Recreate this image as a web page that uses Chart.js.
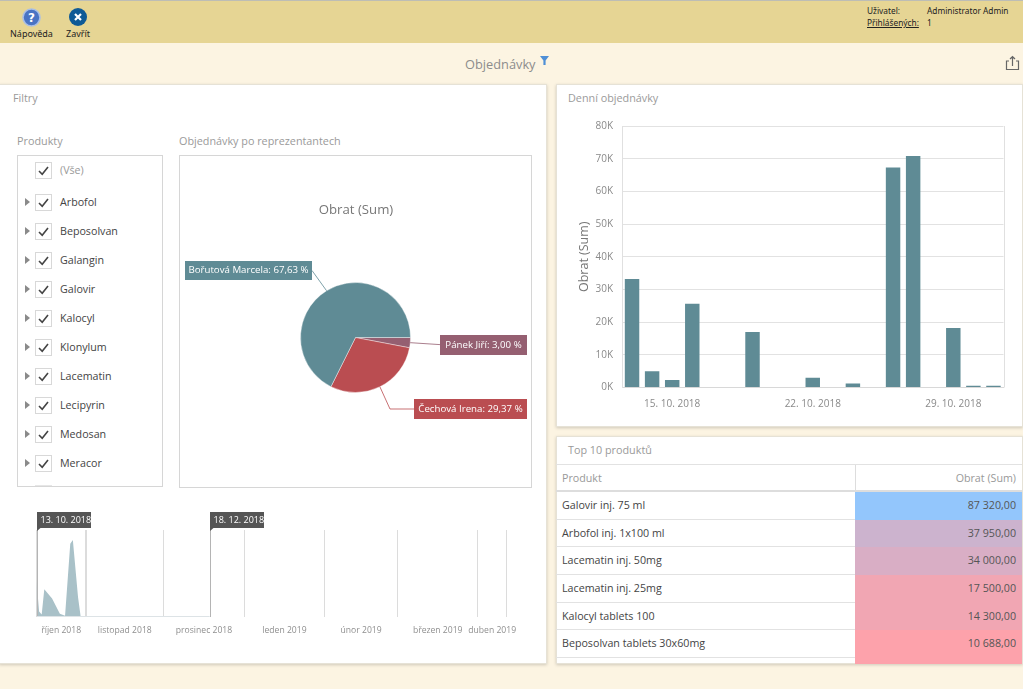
<!DOCTYPE html>
<html lang="cs"><head><meta charset="utf-8"><title>Objednávky</title>
<script src="https://cdn.jsdelivr.net/npm/chart.js@4"></script>
<style>
html,body{margin:0;padding:0;width:1023px;height:689px;overflow:hidden;background:#fcf4e2;font-family:"Open Sans",sans-serif;color:#333}
.a{position:absolute;white-space:nowrap}
#top{left:0;top:0;width:1023px;height:43px;background:#e6d594;border-top:1px solid #bdbdb5;box-sizing:border-box}
.small{font:9px "Noto Sans",sans-serif;color:#222}
.panel{background:#fff;border:1px solid #e6e2d6;box-sizing:border-box;box-shadow:0 1px 3px rgba(0,0,0,.18)}
.cap{font-size:10.8px;color:#9a9a9a}
.box{border:1px solid #d6d6d6;box-sizing:border-box;background:#fff}
.item{font-size:10.7px;color:#444;line-height:16px}
.chk{width:17px;height:17px;border:1px solid #d8d8d8;box-sizing:border-box;background:#fff}
.chk svg{display:block}
.arrow{width:0;height:0;border-left:5px solid #8a8a8a;border-top:4px solid transparent;border-bottom:4px solid transparent}
canvas{position:absolute}
.row{left:556px;width:466px;box-sizing:border-box;border-bottom:1px solid #e2e2e2}
.cellL{position:absolute;left:6px;top:0;font-size:10.7px;color:#444}
.cellR{position:absolute;left:299px;right:0;top:0;bottom:-1px;text-align:right;padding-right:6px;font-size:10.7px;color:#555}
</style></head><body>
<div class="a" id="top"></div>
<svg class="a" style="left:22px;top:8px" width="19" height="19" viewBox="0 0 19 19"><circle cx="9.5" cy="9.5" r="8.5" fill="#4a74c4" stroke="#a9bfe6" stroke-width="1.6"/><text x="9.5" y="14" text-anchor="middle" font-family="DejaVu Sans" font-weight="bold" font-size="12" fill="#fff">?</text></svg>
<svg class="a" style="left:69px;top:8px" width="18" height="18" viewBox="0 0 18 18"><circle cx="9" cy="9" r="9" fill="#0f5a96"/><path d="M6 6l6 6M12 6l-6 6" stroke="#fff" stroke-width="2.2"/></svg>
<div class="a small" style="left:10px;top:27px">Nápověda</div>
<div class="a small" style="left:66px;top:27px">Zavřít</div>
<div class="a small" style="left:867px;top:5px;font-size:8.3px">Uživatel:</div>
<div class="a small" style="left:927px;top:5px;font-size:8.3px">Administrator Admin</div>
<div class="a small" style="left:867px;top:17px;font-size:8.3px;text-decoration:underline">Přihlášených:</div>
<div class="a small" style="left:927px;top:17px;font-size:8.3px">1</div>
<div class="a" style="left:465px;top:55px;font-size:12.8px;color:#8c8c8c">Objednávky</div>
<svg class="a" style="left:539px;top:55px" width="11" height="11" viewBox="0 0 11 11"><path d="M1 1h9L6.6 5.5V10H4.4V5.5z" fill="#4f8fd6"/></svg>
<svg class="a" style="left:1005px;top:55px" width="15" height="16" viewBox="0 0 15 16" fill="none" stroke="#666" stroke-width="1.2"><path d="M4 6H1.5v8.5h12V6H11M7.5 11V1.5M5 4l2.5-2.5L10 4"/></svg>

<div class="a panel" style="left:-1px;top:84px;width:548px;height:580px"></div>
<div class="a cap" style="left:13px;top:90px">Filtry</div>
<div class="a cap" style="left:17px;top:133px">Produkty</div>
<div class="a cap" style="left:179px;top:133px">Objednávky po reprezentantech</div>
<div class="a box" id="list" style="left:17px;top:155px;width:146px;height:332px;overflow:hidden"></div>
<div class="a box" style="left:179px;top:155px;width:353px;height:333px"></div>
<canvas id="pie" style="left:180px;top:156px;width:351px;height:331px"></canvas>

<canvas id="range" style="left:20px;top:505px;width:510px;height:140px"></canvas>

<div class="a panel" style="left:556px;top:84px;width:467px;height:343px"></div>
<div class="a cap" style="left:568px;top:90px">Denní objednávky</div>
<canvas id="bars" style="left:556px;top:110px;width:466px;height:310px"></canvas>

<div class="a panel" style="left:556px;top:436px;width:467px;height:228px"></div>
<div class="a cap" style="left:568px;top:442px">Top 10 produktů</div>
<div id="table"></div>

<script>
// Daily orders (one value per day, 13. 10. – 31. 10. 2018; null = no orders)
const dayLabels = ['13. 10. 2018','14. 10. 2018','15. 10. 2018','16. 10. 2018','17. 10. 2018','18. 10. 2018','19. 10. 2018','20. 10. 2018','21. 10. 2018','22. 10. 2018','23. 10. 2018','24. 10. 2018','25. 10. 2018','26. 10. 2018','27. 10. 2018','28. 10. 2018','29. 10. 2018','30. 10. 2018','31. 10. 2018'];
const dayValues = [33200,5000,2300,25600,null,null,17000,null,null,3000,null,1200,null,67300,70800,null,18200,500,500];
const dayTickLabels = ['15. 10. 2018','22. 10. 2018','29. 10. 2018'];
const yTicks = [0,10000,20000,30000,40000,50000,60000,70000,80000];

// Pie
const repNames = ['Pánek Jiří','Čechová Irena','Bořutová Marcela'];
const repShares = [3.00,29.37,67.63];
const repColors = ['#955f71','#ba4d51','#5f8b95'];

// Range selector (x is days since 13. 10. 2018)
const monthStarts = [0,19,49,80,111,139,170,181];
const monthMiddles = [9.5,34,64.5,95.5,125,154.5,175.5];
const monthLabels = ['říjen 2018','listopad 2018','prosinec 2018','leden 2019','únor 2019','březen 2019','duben 2019'];
const rangeTags = ['13. 10. 2018','18. 12. 2018'];
const rangeDays = [0,66.7];
const rangeEndDay = 181;

// Filter list
const allLabel = '(Vše)';
const products = ['Arbofol','Beposolvan','Galangin','Galovir','Kalocyl','Klonylum','Lacematin','Lecipyrin','Medosan','Meracor'];

// Top 10 table
const tableHead = ['Produkt','Obrat (Sum)'];
const topNames = ['Galovir inj. 75 ml','Arbofol inj. 1x100 ml','Lacematin inj. 50mg','Lacematin inj. 25mg','Kalocyl tablets 100','Beposolvan tablets 30x60mg'];
const topValues = ['87 320,00','37 950,00','34 000,00','17 500,00','14 300,00','10 688,00'];
const topColors = ['#93c6fc','#ccb3ce','#d9aec5','#f1a6b3','#f1a6b3','#fda2ab','#fda2ab'];

const FONT = '"Open Sans", sans-serif';
Chart.defaults.animation = false;
Chart.defaults.responsive = false;
Chart.defaults.font.family = FONT;
Chart.defaults.plugins.legend.display = false;
Chart.defaults.plugins.tooltip.enabled = false;

function fit(id){const c=document.getElementById(id);c.width=parseFloat(c.style.width);c.height=parseFloat(c.style.height);return c;}

// ---- filter list
const CHECK='<svg width="15" height="15" viewBox="0 0 15 15"><path d="M3 8l3.2 3.2L12 4" fill="none" stroke="#444" stroke-width="1.6"/></svg>';
(function(){
  const L=document.getElementById('list');let h='';
  h+=`<div class="a chk" style="left:17px;top:6px">${CHECK}</div><div class="a item" style="left:42px;top:6px;color:#999">${allLabel}</div>`;
  products.forEach((p,i)=>{const y=38+i*29;
    h+=`<div class="a arrow" style="left:7px;top:${y+4}px"></div><div class="a chk" style="left:17px;top:${y}px">${CHECK}</div><div class="a item" style="left:42px;top:${y}px">${p}</div>`;});
  h+=`<div class="a" style="left:17px;top:329px;width:17px;height:3px;background:#e6e6e6"></div>`;
  L.innerHTML=h;
})();

// ---- table
(function(){
  const T=document.getElementById('table');let h='';
  h+=`<div class="a row" style="top:464px;height:28px;border-top:1px solid #e2e2e2;border-bottom:2px solid #ddd"><div class="cellL" style="top:6px;color:#999">${tableHead[0]}</div><div class="cellR" style="top:0;padding-top:6px;color:#999;border-left:1px solid #ddd">${tableHead[1]}</div></div>`;
  const tops=[492,520,547,575,603,630];
  topNames.forEach((n,i)=>{h+=`<div class="a row" style="top:${tops[i]}px;height:${(tops[i+1]||658)-tops[i]}px"><div class="cellL" style="top:6px">${n}</div><div class="cellR" style="background:${topColors[i]};padding-top:6px">${topValues[i]}</div></div>`;});
  h+=`<div class="a" style="left:855px;top:658px;width:167px;height:6px;background:${topColors[6]}"></div>`;
  T.innerHTML=h;
})();

// ---- pie
const pieLabels={id:'pieLabels',afterDatasetsDraw(chart){
  const {ctx}=chart, meta=chart.getDatasetMeta(0);
  const boxes=[{x:440,y:334,w:87,h:20},{x:414,y:398,w:113,h:20},{x:185,y:260,w:127,h:19}];
  ctx.save();
  ctx.font='9.7px '+FONT;ctx.textBaseline='middle';ctx.textAlign='center';
  meta.data.forEach((arc,i)=>{
    const p=arc.getProps(['x','y','startAngle','endAngle','outerRadius'],true);
    const mid=(p.startAngle+p.endAngle)/2;
    const ex=p.x+p.outerRadius*Math.cos(mid), ey=p.y+p.outerRadius*Math.sin(mid);
    const b=boxes[i], bx=b.x-180, by=b.y-155;
    const cy=by+b.h/2;
    ctx.strokeStyle=repColors[i];ctx.globalAlpha=.8;ctx.lineWidth=1;
    ctx.beginPath();ctx.moveTo(ex,ey);
    const side=(bx>ex)?bx:bx+b.w;
    const elbow=i===0?side+6:(i===1?side-24:null);
    if(elbow!==null)ctx.lineTo(elbow,cy);
    ctx.lineTo(side,cy);ctx.stroke();ctx.globalAlpha=1;
    ctx.fillStyle=repColors[i];ctx.fillRect(bx,by,b.w,b.h);
    ctx.fillStyle='#fff';
    ctx.fillText(repNames[i]+': '+repShares[i].toFixed(2).replace('.',',')+' %',bx+b.w/2,cy);
  });
  ctx.restore();
}};
new Chart(fit('pie'),{type:'pie',data:{labels:repNames,datasets:[{data:repShares,backgroundColor:repColors,borderColor:'#fff',borderWidth:.4,radius:55}]},
  options:{rotation:90,layout:{padding:{top:32,left:0,right:0,bottom:0}},plugins:{}},plugins:[pieLabels,{id:'pieTitle',afterDraw(c){const x=c.ctx;x.save();x.font='13.2px '+FONT;x.fillStyle='#777';x.textAlign='center';x.textBaseline='middle';x.fillText('Obrat (Sum)',176,54);x.restore();}}]});

// ---- bars
const frame={id:'frame',beforeDatasetsDraw(c){const {ctx,chartArea:a}=c;ctx.save();ctx.strokeStyle='#e0e0e0';ctx.lineWidth=1;ctx.beginPath();ctx.moveTo(Math.round(a.right)+.5,a.top);ctx.lineTo(Math.round(a.right)+.5,a.bottom);ctx.stroke();ctx.restore();}};
new Chart(fit('bars'),{type:'bar',data:{labels:dayLabels,datasets:[{data:dayValues,backgroundColor:'#5f8b95',categoryPercentage:1,barPercentage:.72}]},
  options:{layout:{padding:{top:16,right:18.5,bottom:0,left:0}},
  scales:{
    x:{afterFit(s){s.height=32.5;},grid:{display:false},border:{color:'#d8d8d8'},
       ticks:{autoSkip:false,maxRotation:0,minRotation:0,padding:3,color:'#8a8a8a',font:{size:10},
         callback(v){const l=this.getLabelForValue(v);return dayTickLabels.includes(l)?l:'';}}},
    y:{min:0,max:80000,afterFit(s){s.width=66;},afterBuildTicks(s){s.ticks=yTicks.map(value=>({value}));},
       grid:{color:'#e2e2e2',drawTicks:false},border:{color:'#e0e0e0'},
       ticks:{padding:9,color:'#8a8a8a',font:{size:10},callback:v=>(v/1000)+'K'},
       title:{display:true,text:'Obrat (Sum)',color:'#777',font:{size:12.5},padding:{top:21,bottom:0}}}
  }},plugins:[frame]});

// ---- range selector
const rangePts=dayValues.map((v,i)=>v===null?null:{x:i,y:v}).filter(Boolean).concat([{x:19,y:0},{x:rangeDays[1],y:0}]);
const handles={id:'handles',afterDatasetsDraw(c){
  const {ctx,chartArea:a,scales:{x}}=c;ctx.save();
  ctx.font='9px '+FONT;ctx.textBaseline='middle';ctx.textAlign='left';
  rangeDays.forEach((d,i)=>{const px=Math.round(x.getPixelForValue(d))+.5;
    ctx.strokeStyle='#b4b4b4';ctx.lineWidth=1;ctx.beginPath();ctx.moveTo(px,a.top-3);ctx.lineTo(px,a.bottom);ctx.stroke();
    ctx.fillStyle='#555';ctx.fillRect(px-.5,a.top-18,54,16);
    ctx.beginPath();ctx.moveTo(px-.5,a.top-2);ctx.lineTo(px+3,a.top-2);ctx.lineTo(px-.5,a.top+1);ctx.fill();
    ctx.fillStyle='#fff';ctx.fillText(rangeTags[i],px+3,a.top-10);});
  ctx.strokeStyle='#dde3e6';ctx.beginPath();ctx.moveTo(a.left,a.bottom-.5);ctx.lineTo(x.getPixelForValue(rangeDays[1]),a.bottom-.5);ctx.stroke();
  ctx.restore();}};
new Chart(fit('range'),{type:'line',data:{datasets:[{data:rangePts,parsing:false,spanGaps:true,fill:'origin',backgroundColor:'#a9c1c8',borderWidth:0,pointRadius:0,tension:0}]},
  options:{layout:{padding:{top:25,left:16.5,right:23.5,bottom:0}},
  scales:{
    x:{type:'linear',min:0,max:rangeEndDay,afterFit(s){s.height=0;},afterBuildTicks(s){s.ticks=monthStarts.map(value=>({value}));},
       grid:{color:'#dcdcdc',drawTicks:false,lineWidth:c=>c.index===1?2:1},border:{display:false},ticks:{display:false}},
    x2:{type:'linear',position:'bottom',min:0,max:rangeEndDay,afterFit(s){s.height=28;},afterBuildTicks(s){s.ticks=monthMiddles.map(value=>({value}));},
       grid:{display:false,tickLength:6},border:{display:false},
       ticks:{autoSkip:false,maxRotation:0,minRotation:0,padding:2,color:'#8f8f8f',font:{size:8.6},callback(v,i){return monthLabels[i];}}},
    y:{display:false,min:0,max:80000}
  }},plugins:[handles]});
</script>
</body></html>
